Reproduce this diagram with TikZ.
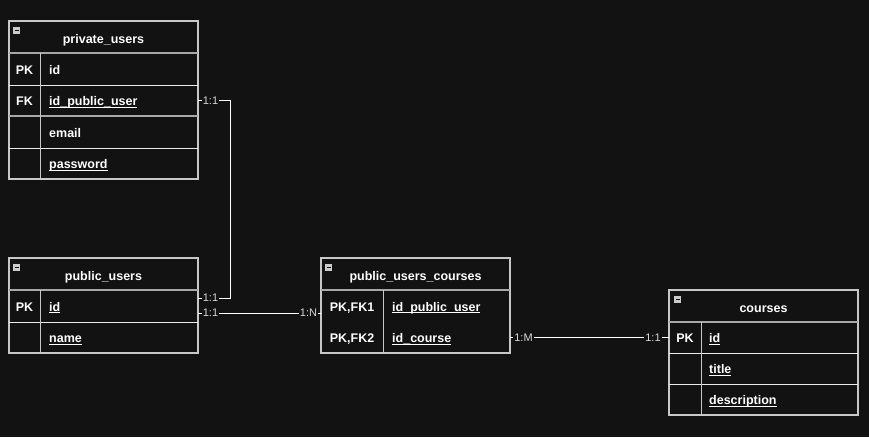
\documentclass[tikz,border=0pt]{standalone}
\usepackage{fontspec}
\setmainfont{Liberation Sans}
\usetikzlibrary{calc}
\definecolor{bg}{HTML}{121212}
\definecolor{outl}{HTML}{C8C8C8}
\definecolor{sepl}{HTML}{A8A8A8}
\definecolor{lbl}{HTML}{D8D8D8}
\newcommand\ulx[1]{\setbox0=\hbox{#1}\rlap{\rule[-2.2pt]{\wd0}{0.9pt}}\box0}
\tikzset{
  tbl/.style={draw=outl, line width=1.3pt},
  hsep/.style={draw=sepl, line width=1.8pt},
  rsep/.style={draw=white!92!black, line width=1pt},
  csep/.style={draw=outl, line width=1pt},
  ttl/.style={anchor=base, inner sep=0pt, text=white, font=\fontsize{12.5}{14}\selectfont\bfseries},
  key/.style={anchor=base, inner sep=0pt, text=white, font=\fontsize{12.5}{14}\selectfont\bfseries},
  fld/.style={anchor=base west, inner sep=0pt, text=white, font=\fontsize{12.5}{14}\selectfont\bfseries},
  rowref/.style={rectangle, inner sep=0pt, outer sep=0pt, minimum height=31},
  conn/.style={draw=white, line width=1pt},
  clbl/.style={fill=bg, inner sep=1pt, text=lbl, font=\fontsize{11}{12}\selectfont},
  icon/.style={fill=white!82!black, draw=none},
}
\newcommand\minusicon[2]{%
  \fill[white!80!black] (#1,#2) rectangle ++(7,7);
  \draw[bg, line width=1.2pt] ($(#1,#2)+(1.5,3.5)$) -- ++(4,0);}
\begin{document}
\begin{tikzpicture}[x=1pt,y=-1pt]
\fill[bg] (0,0) rectangle (869,437);
\useasboundingbox (0,0) rectangle (869,437);

% ---------- private_users ----------
\draw[tbl] (9,21) rectangle (198,179);
\draw[hsep] (9,53) -- (198,53);
\draw[rsep] (9,85) -- (198,85);
\draw[hsep] (9,116) -- (198,116);
\draw[rsep] (9,148) -- (198,148);
\draw[csep] (40,53) -- (40,179);
\minusicon{13}{27}
\node[ttl] (pv-t) at (103.5,43) {private\_users};
\node[key] (pv-k1) at (24.5,74) {PK};
\node[key] (pv-k2) at (24.5,105.5) {FK};
\node[fld] (pv-f1) at (49,74) {id};
\node[fld] (pv-f2) at (49,105.5) {\ulx{id\_public\_user}};
\node[fld] (pv-f3) at (49,137) {email};
\node[fld] (pv-f4) at (49,168.5) {\ulx{password}};
\node[rowref, minimum width=189] (pv-fk) at (103.5,100.5) {};

% ---------- public_users ----------
\draw[tbl] (9,258) rectangle (198,353);
\draw[hsep] (9,290) -- (198,290);
\draw[rsep] (9,322) -- (198,322);
\draw[csep] (40,290) -- (40,353);
\minusicon{13}{264}
\node[ttl] (pu-t) at (103.5,280) {public\_users};
\node[key] (pu-k1) at (24.5,311) {PK};
\node[fld] (pu-f1) at (49,311) {\ulx{id}};
\node[fld] (pu-f2) at (49,342.5) {\ulx{name}};
\node[rowref, minimum width=189] (pu-id) at (103.5,306) {};
\coordinate (pu-a) at ($(pu-id.east)+(0,-8)$);
\coordinate (pu-b) at ($(pu-id.east)+(0,7)$);

% ---------- public_users_courses ----------
\draw[tbl] (321,258) rectangle (510,353);
\draw[hsep] (321,290) -- (510,290);
\draw[csep] (383,290) -- (383,353);
\minusicon{325}{264}
\node[ttl] (puc-t) at (415.5,280) {public\_users\_courses};
\node[key] (puc-k1) at (352,311) {PK,FK1};
\node[key] (puc-k2) at (352,342.5) {PK,FK2};
\node[fld] (puc-f1) at (392,311) {\ulx{id\_public\_user}};
\node[fld] (puc-f2) at (392,342.5) {\ulx{id\_course}};
\node[rowref, minimum width=189] (puc-r1) at (415.5,306) {};
\node[rowref, minimum width=189] (puc-r2) at (415.5,337.5) {};
\coordinate (puc-in) at ($(puc-r1.west)+(0,7)$);

% ---------- courses ----------
\draw[tbl] (669,290) rectangle (858,415);
\draw[hsep] (669,322) -- (858,322);
\draw[rsep] (669,353) -- (858,353);
\draw[rsep] (669,384) -- (858,384);
\draw[csep] (701,322) -- (701,415);
\minusicon{674}{296}
\node[ttl] (co-t) at (763.5,312) {courses};
\node[key] (co-k1) at (685,342.5) {PK};
\node[fld] (co-f1) at (709,342.5) {\ulx{id}};
\node[fld] (co-f2) at (709,373.5) {\ulx{title}};
\node[fld] (co-f3) at (709,404.5) {\ulx{description}};
\node[rowref, minimum width=189] (co-id) at (763.5,337.5) {};

% ---------- connectors ----------
\draw[conn] (pv-fk.east) -| ($(pu-a)+(32,0)$) -- (pu-a);
\draw[conn] (pu-b) -- (puc-in);
\draw[conn] (puc-r2.east) -- (co-id.west);

\node[clbl] (l1) at ($(pv-fk.east)+(12.5,0)$) {1:1};
\node[clbl] (l2) at ($(pu-a)+(12.5,0)$) {1:1};
\node[clbl] (l3) at ($(pu-b)+(12.5,0)$) {1:1};
\node[clbl] (l4) at ($(puc-in)+(-12.5,0)$) {1:N};
\node[clbl] (l5) at ($(puc-r2.east)+(13.5,0)$) {1:M};
\node[clbl] (l6) at ($(co-id.west)+(-16,0)$) {1:1};
\end{tikzpicture}
\end{document}
